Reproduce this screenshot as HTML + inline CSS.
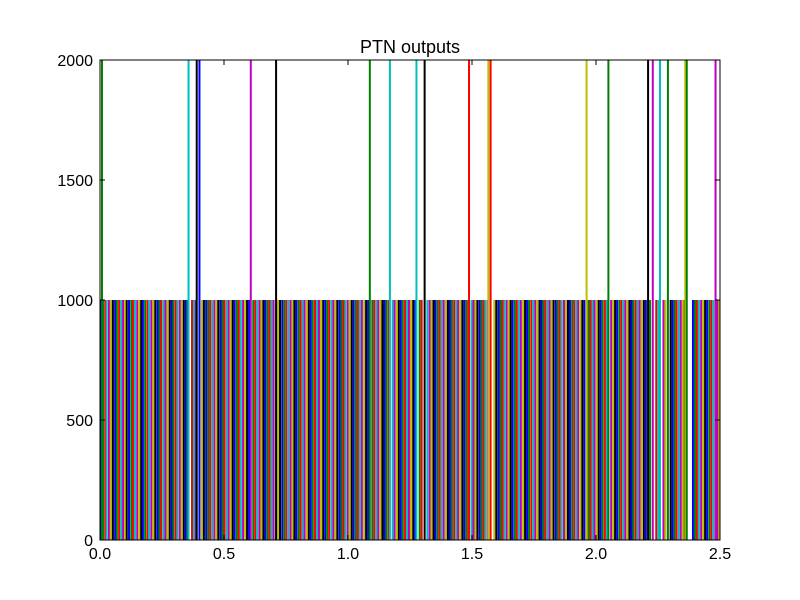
<!DOCTYPE html>
<html><head><meta charset="utf-8"><style>
html,body{margin:0;padding:0;background:#fff;}
svg{display:block;font-family:"Liberation Sans",sans-serif;}
</style></head><body>
<svg id="chart" width="800" height="600" viewBox="0 0 800 600" xmlns="http://www.w3.org/2000/svg">
<rect width="800" height="600" fill="#fff"/>
<text x="410" y="53" font-size="18" text-anchor="middle">PTN outputs</text>
<g id="marks"></g>
<g id="axes"></g>
</svg>
<script>
const shortX = [0.004,0.012,0.021,0.027,0.036,0.044,0.052,0.061,0.068,0.077,0.085,0.093,0.101,0.108,0.117,0.126,0.133,0.141,0.150,0.158,0.166,0.173,0.182,0.191,0.198,0.207,0.215,0.223,0.232,0.240,0.247,0.256,0.264,0.272,0.281,0.289,0.296,0.305,0.313,0.322,0.330,0.338,0.346,0.354,0.371,0.379,0.387,0.411,0.419,0.428,0.436,0.444,0.452,0.461,0.469,0.477,0.486,0.494,0.502,0.511,0.519,0.527,0.535,0.543,0.552,0.560,0.568,0.577,0.585,0.593,0.601,0.618,0.626,0.634,0.643,0.651,0.659,0.667,0.676,0.684,0.692,0.700,0.718,0.726,0.735,0.743,0.751,0.759,0.768,0.776,0.784,0.792,0.801,0.809,0.817,0.825,0.834,0.842,0.850,0.858,0.867,0.875,0.883,0.891,0.900,0.908,0.916,0.924,0.933,0.941,0.949,0.957,0.966,0.974,0.982,0.990,0.999,1.007,1.015,1.023,1.032,1.040,1.048,1.056,1.065,1.073,1.081,1.098,1.106,1.114,1.122,1.131,1.139,1.147,1.155,1.164,1.180,1.188,1.197,1.205,1.213,1.221,1.230,1.238,1.246,1.254,1.263,1.271,1.289,1.297,1.320,1.329,1.337,1.345,1.353,1.362,1.370,1.378,1.386,1.395,1.403,1.411,1.419,1.428,1.436,1.444,1.452,1.461,1.469,1.477,1.485,1.498,1.506,1.514,1.522,1.531,1.539,1.547,1.555,1.564,1.590,1.598,1.607,1.615,1.623,1.631,1.640,1.648,1.656,1.664,1.673,1.681,1.689,1.697,1.706,1.714,1.722,1.730,1.739,1.747,1.755,1.763,1.772,1.780,1.788,1.796,1.805,1.813,1.821,1.829,1.838,1.846,1.854,1.862,1.871,1.879,1.887,1.895,1.904,1.912,1.920,1.928,1.937,1.945,1.953,1.970,1.978,1.986,1.994,2.003,2.011,2.019,2.027,2.036,2.044,2.061,2.069,2.077,2.085,2.094,2.102,2.110,2.118,2.127,2.135,2.143,2.151,2.160,2.168,2.176,2.184,2.193,2.201,2.218,2.243,2.251,2.272,2.280,2.301,2.309,2.317,2.325,2.334,2.342,2.350,2.358,2.391,2.399,2.407,2.415,2.424,2.432,2.440,2.448,2.457,2.465,2.473,2.490,2.497];
const shortH = 1000;
const tallX = [0.008,0.357,0.39,0.401,0.608,0.71,1.088,1.169,1.276,1.309,1.488,1.566,1.575,1.962,2.05,2.21,2.229,2.258,2.29,2.36,2.366,2.482];
const tallC = ['g','c','k','b','m','k','g','c','c','k','r','y','r','y','g','k','m','c','g','y','g','m'];
const tallH = 2000;
const xTicks = [0.0,0.5,1.0,1.5,2.0,2.5];
const xTickLabels = ['0.0','0.5','1.0','1.5','2.0','2.5'];
const yTicks = [0,500,1000,1500,2000];
const yTickLabels = ['0','500','1000','1500','2000'];

const L=100,R=720,T=60,B=540,XMAX=2.5,YMAX=2000;
const colors={b:'#0000ff',g:'#008000',r:'#ff0000',c:'#00bfbf',m:'#bf00bf',y:'#bfbf00',k:'#000000'};
const cyc=['b','g','r','c','m','y','k'];
function xs(v){return L+(v/XMAX)*(R-L);}
function ys(v){return B-(v/YMAX)*(B-T);}
const NS='http://www.w3.org/2000/svg';
const marks=document.getElementById('marks'), axes=document.getElementById('axes');
function ln(parent,x1,y1,x2,y2,col,w){const e=document.createElementNS(NS,'line');
e.setAttribute('x1',x1);e.setAttribute('y1',y1);e.setAttribute('x2',x2);e.setAttribute('y2',y2);
e.setAttribute('stroke',col);e.setAttribute('stroke-width',w);parent.appendChild(e);return e;}
shortX.forEach((v,i)=>{const e=ln(marks,xs(v),ys(0),xs(v),ys(shortH),colors[cyc[i%7]],2);

});
tallX.forEach((v,i)=>{const e=ln(marks,xs(v),ys(0),xs(v),ys(tallH),colors[tallC[i]],2);

});
const fr=document.createElementNS(NS,'rect');
fr.setAttribute('x',L);fr.setAttribute('y',T);fr.setAttribute('width',R-L);fr.setAttribute('height',B-T);
fr.setAttribute('fill','none');fr.setAttribute('stroke','#000');fr.setAttribute('stroke-width',1);


axes.appendChild(fr);
function txt(x,y,s,anchor){const t=document.createElementNS(NS,'text');t.setAttribute('x',x);t.setAttribute('y',y);
t.setAttribute('font-size','16');t.setAttribute('text-anchor',anchor);t.textContent=s;axes.appendChild(t);return t;}
xTicks.forEach((v,i)=>{const x=xs(v);ln(axes,x,B,x,B-5,'#000',1);ln(axes,x,T,x,T+5,'#000',1);
const t=txt(x,559,xTickLabels[i],'middle');

});
yTicks.forEach((v,i)=>{const y=ys(v);ln(axes,L,y,L+5,y,'#000',1);ln(axes,R,y,R-5,y,'#000',1);
const t=txt(93,y+6,yTickLabels[i],'end');

});
</script>
</body></html>
